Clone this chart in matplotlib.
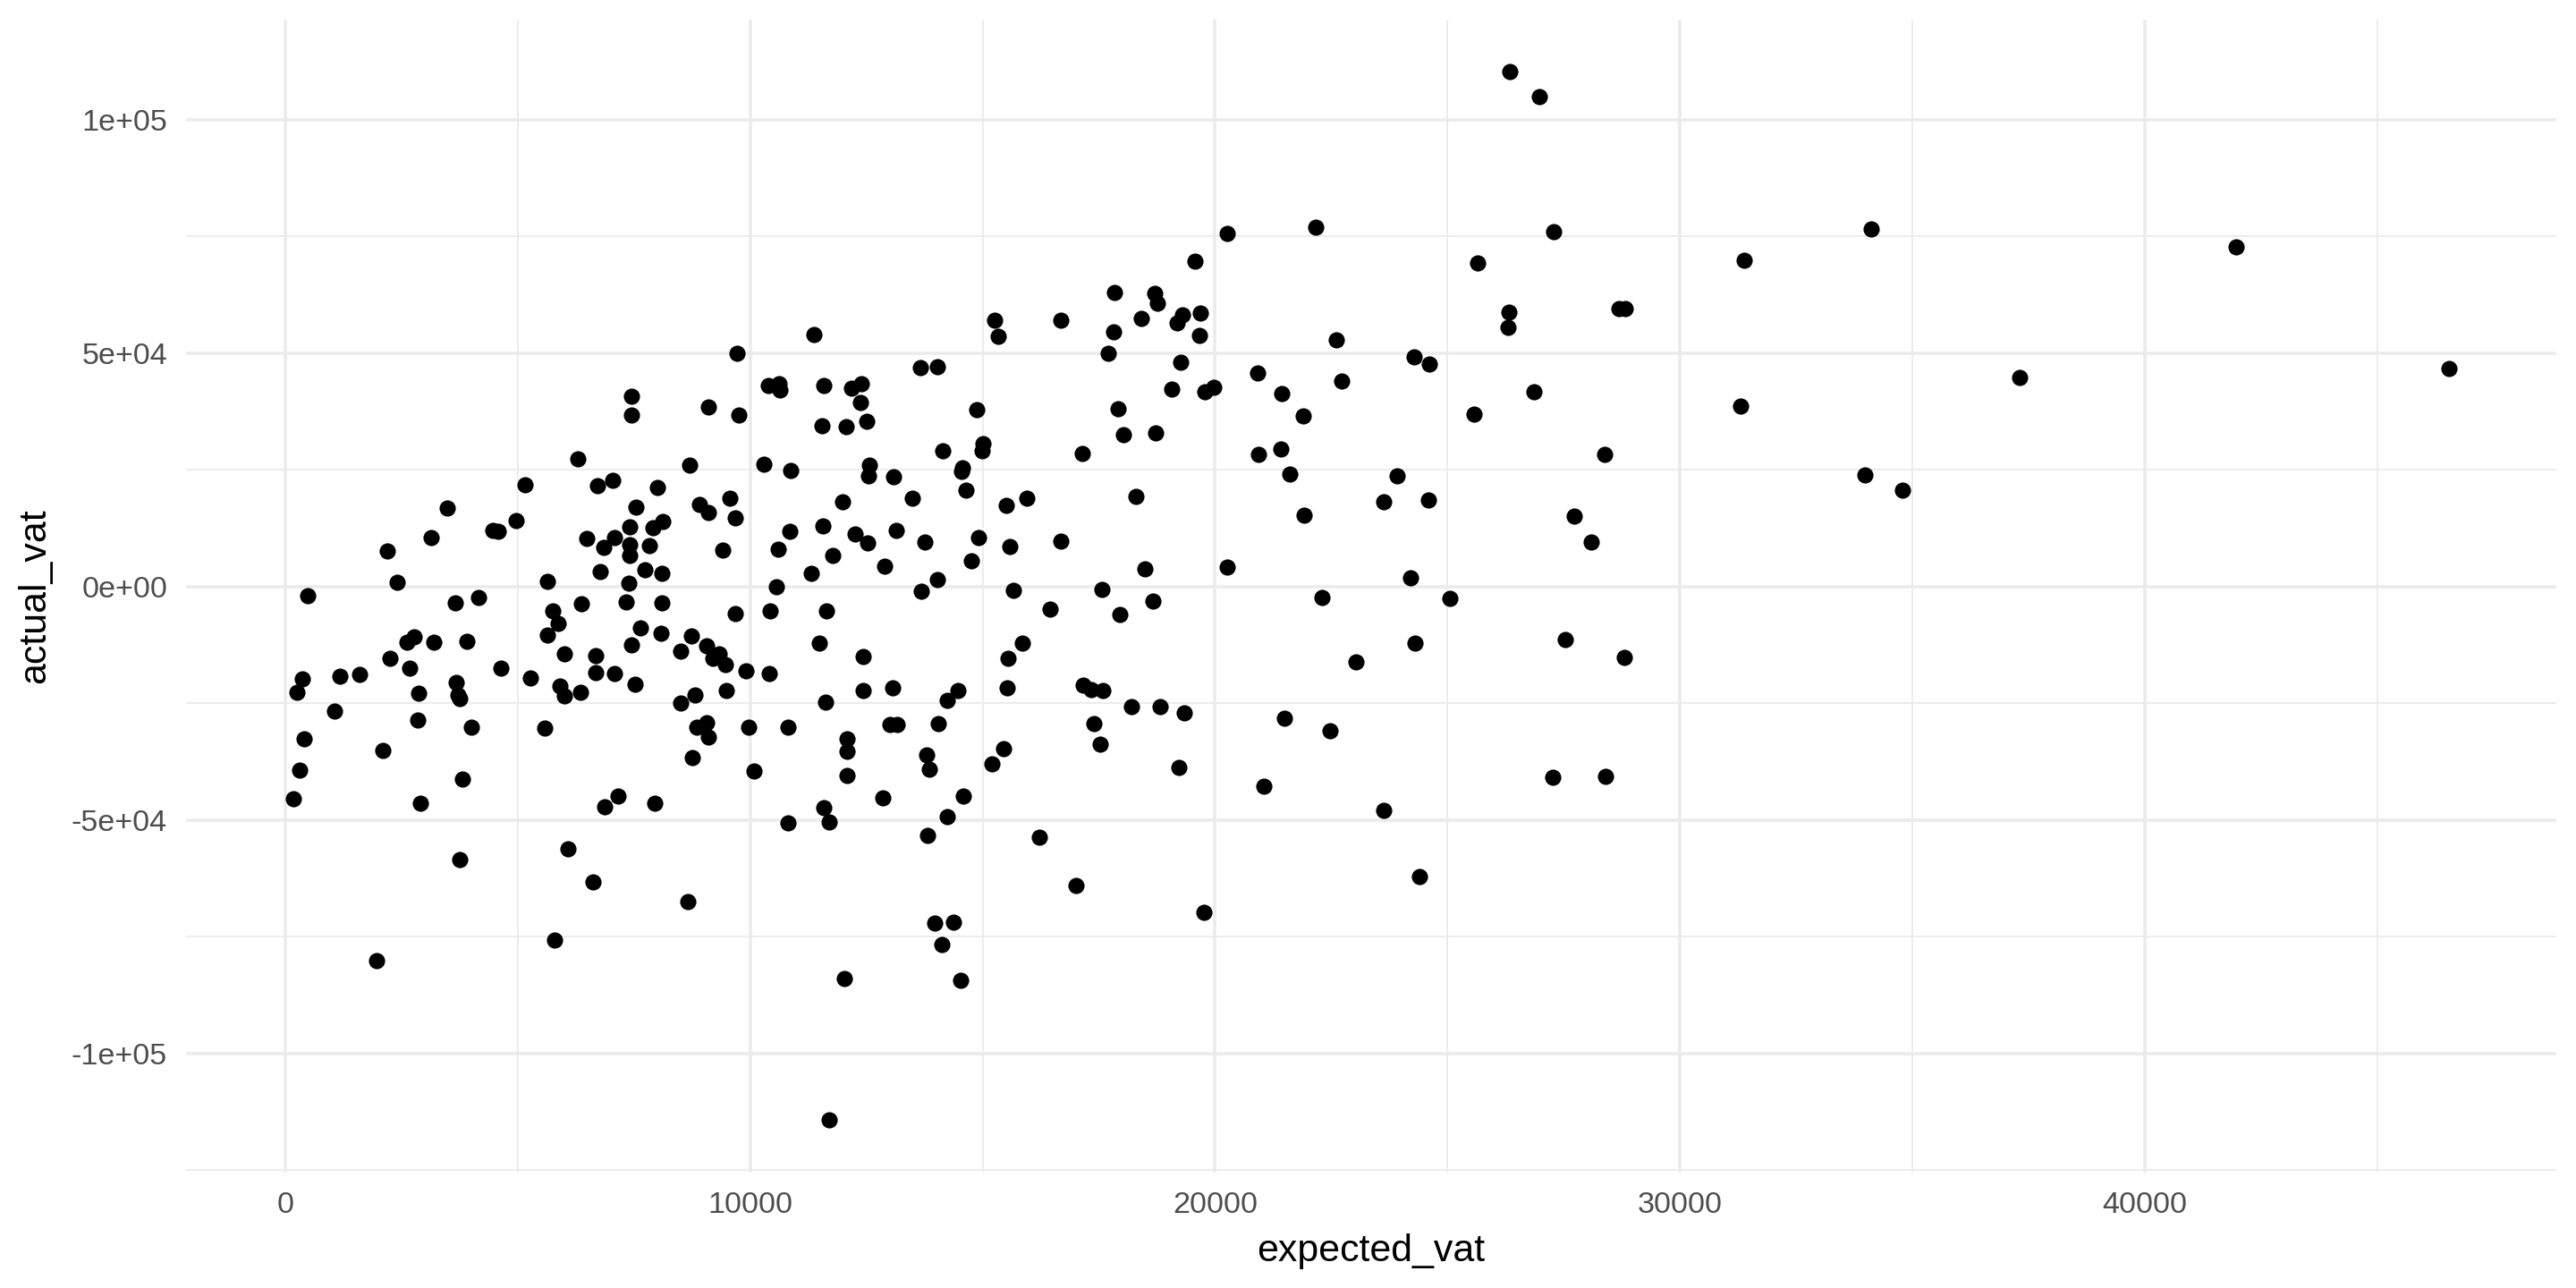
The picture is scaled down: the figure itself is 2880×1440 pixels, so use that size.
import matplotlib
matplotlib.use("Agg")
import matplotlib.pyplot as plt
from matplotlib.ticker import FixedLocator, FuncFormatter, NullFormatter

plt.rcParams["font.family"] = ["Liberation Sans", "DejaVu Sans"]

# values (expected_vat, actual_vat)
expected_vat = [
    # x < 10000, upper half
    7438, 7451, 9111, 6290, 8707, 5155, 6720, 7034, 8009, 3481, 7540, 8919, 9098,
    4957, 3135, 4463, 4586, 6482, 7079, 6855, 7413, 7413, 7405, 7905, 8124, 7828,
    9406, 2200, 2404, 481, 6765, 7732, 8092, 5636, 7386, 4149, 3649, 5751, 5867,
    5643, 6361, 7323, 8092, 7636, 8078, 7444, 8740, 8515, 9067, 9329, 9201, 9471,
    6682, 6009, 7073, 6682, 5264, 4636, 2681, 2610, 2777, 3187, 3899, 2245, 1604,
    1181, 365,
    # x < 10000, lower part
    258, 3681, 2866, 3720, 3751, 5899, 5995, 6347, 7528, 8515, 8817, 1058, 2841,
    3995, 5578, 8848, 9054, 9106, 404, 2091, 8765, 302, 3816, 181, 2911, 6867,
    7149, 7957, 6072, 3751, 6617, 8656, 5784, 1956,
    # 10000-20000, upper
    9713, 11381, 9760, 10387, 10631, 10644, 11593, 12183, 12400, 12381, 11548,
    12068, 12510, 13657, 14022, 15266, 15343, 16676, 17830, 18709, 18767, 18408,
    17819, 17696, 14876, 17921, 18023, 18723, 17138, 14150, 15003, 14991, 10290,
    10881, 12560, 12554, 13079, 14568, 14555, 14651, 13497, 11983, 9573, 9682,
    15501, 15953, 18305, 10855, 11560, 12260, 12529, 13144, 13766, 14920, 15587,
    16690, 10606, 11779, 12887, 14760, 11323, 18484, 10567, 14022, 13689, 15664,
    17568, 18671, 17953, 16445, 9675, 10438, 11650, 11496, 12432, 15863, 15555,
    9906, 10406,
    # 10000-20000, lower
    9491, 11618, 12439, 13073, 14240, 14472, 15535, 17165, 17331, 17581, 18203,
    18818, 9977, 10823, 12093, 12087, 12093, 13003, 13170, 14048, 13805, 13863,
    15452, 15209, 17396, 17523, 10086, 11586, 11702, 10823, 12855, 14587, 14233,
    13818, 16228, 17010, 13965, 14382, 14125, 12022, 14535, 11702,
    # 19000-29000
    20264, 22166, 19577, 25650, 27284, 19306, 19192, 19686, 19665, 22612, 26329,
    26296, 28684, 28822, 19253, 19067, 19775, 19967, 20915, 21444, 22721, 24276,
    24605, 26857, 21898, 25580, 20929, 21423, 21610, 23918, 28390, 23636, 24592,
    21912, 27738, 28102, 20256, 24212, 22296, 25051, 24295, 23031, 27538, 28815,
    19342, 21487, 22481, 19233, 21054, 23636, 27271, 28411, 24405, 19769,
    # top and right
    26336, 26988, 31385, 34116, 41964, 37309, 46542, 31308, 33982, 34789,
]
actual_vat = [
    40750, 36840, 38510, 27330, 26050, 21840, 21590, 22860, 21210, 16800, 16990,
    17570, 15840, 14230, 10540, 12010, 11820, 10350, 10480, 8430, 12890, 9060,
    6700, 12590, 13930, 8810, 7910, 7720, 960, -1920, 3310, 3700, 2870, 1150, 710,
    -2240, -3450, -5110, -7910, -10340, -3580, -3320, -3450, -8750, -10020,
    -12390, -10470, -13850, -12700, -14310, -15270, -16720, -14810, -14430,
    -18640, -18450, -19600, -17370, -17370, -11810, -10670, -11810, -11620,
    -15270, -18830, -19100, -19790,
    -22590, -20540, -22800, -23140, -24020, -21290, -23350, -22590, -20960,
    -24850, -23280, -26710, -28620, -30060, -30250, -30120, -29100, -32240,
    -32590, -35040, -36690, -39290, -41130, -45440, -46400, -47220, -44830,
    -46400, -56110, -58510, -63240, -67410, -75750, -80130,
    50060, 53960, 36780, 43100, 43490, 42140, 43040, 42530, 43490, 39400, 34420,
    34230, 35500, 46870, 47120, 57030, 53700, 57030, 62970, 62840, 60670, 57470,
    54660, 49940, 37930, 38180, 32510, 32890, 28490, 29120, 30710, 29060, 26190,
    24900, 26050, 23810, 23500, 25540, 24770, 20750, 19020, 18140, 19020, 14750,
    17430, 18970, 19350, 11820, 12970, 11300, 9330, 12070, 9580, 10590, 8620,
    9710, 8100, 6700, 4350, 5560, 2810, 3830, -60, 1530, -1020, -710, -520,
    -3070, -6000, -4850, -5690, -5110, -5110, -12010, -15000, -12010, -15380,
    -18010, -18650,
    -22240, -24640, -22240, -21700, -24310, -22240, -21700, -21150, -22110,
    -22240, -25750, -25600, -30120, -30120, -32590, -35330, -40440, -29430,
    -29430, -29290, -36000, -39080, -34700, -37910, -29370, -33680, -39560,
    -47300, -50310, -50570, -45310, -44900, -49270, -53310, -53590, -63980,
    -71990, -71860, -76710, -83890, -84310, -114270,
    75590, 77090, 69640, 69370, 76130, 58140, 56440, 58540, 53900, 52870, 58830,
    55540, 59500, 59500, 48160, 42410, 41650, 42610, 45770, 41380, 44040, 49250,
    47610, 41780, 36590, 36860, 28310, 29410, 24060, 23730, 28380, 18120, 18470,
    15380, 15040, 9640, 4290, 1970, -2340, -2550, -12180, -16020, -11230, -15060,
    -26950, -28220, -30840, -38760, -42660, -47950, -40870, -40550, -62130,
    -69730,
    110290, 104980, 69920, 76630, 72800, 44830, 46740, 38700, 23950, 20690,
]

x_major = [0, 10000, 20000, 30000, 40000]
x_minor = [5000, 15000, 25000, 35000, 45000]
y_major = [-100000, -50000, 0, 50000, 100000]
y_minor = [-125000, -75000, -25000, 25000, 75000]

GRID = "#EBEBEB"
TICK = "#4D4D4D"

fig = plt.figure(figsize=(9.6, 4.8), dpi=300)
ax = fig.add_axes([0.0722, 0.0896, 0.9202, 0.8954])

ax.scatter(expected_vat, actual_vat, s=19, c="black", linewidths=0, zorder=3)
ax.margins(0.05)

ax.xaxis.set_major_locator(FixedLocator(x_major))
ax.xaxis.set_minor_locator(FixedLocator(x_minor))
ax.yaxis.set_major_locator(FixedLocator(y_major))
ax.yaxis.set_minor_locator(FixedLocator(y_minor))
ax.xaxis.set_major_formatter(FuncFormatter(lambda v, p: f"{v:.0f}"))
ax.yaxis.set_major_formatter(FuncFormatter(lambda v, p: f"{v:.0e}"))
ax.xaxis.set_minor_formatter(NullFormatter())
ax.yaxis.set_minor_formatter(NullFormatter())

ax.grid(which="major", color=GRID, linewidth=0.85)
ax.grid(which="minor", color=GRID, linewidth=0.45)
ax.set_axisbelow(True)
for sp in ax.spines.values():
    sp.set_visible(False)
ax.tick_params(which="both", length=0, labelsize=8.2, labelcolor=TICK, pad=5)

ax.set_xlabel("expected_vat", fontsize=10.3, color="black", labelpad=4)
ax.set_ylabel("actual_vat", fontsize=10.3, color="black", labelpad=5)

fig.savefig("out.png", dpi=300, facecolor="white")
